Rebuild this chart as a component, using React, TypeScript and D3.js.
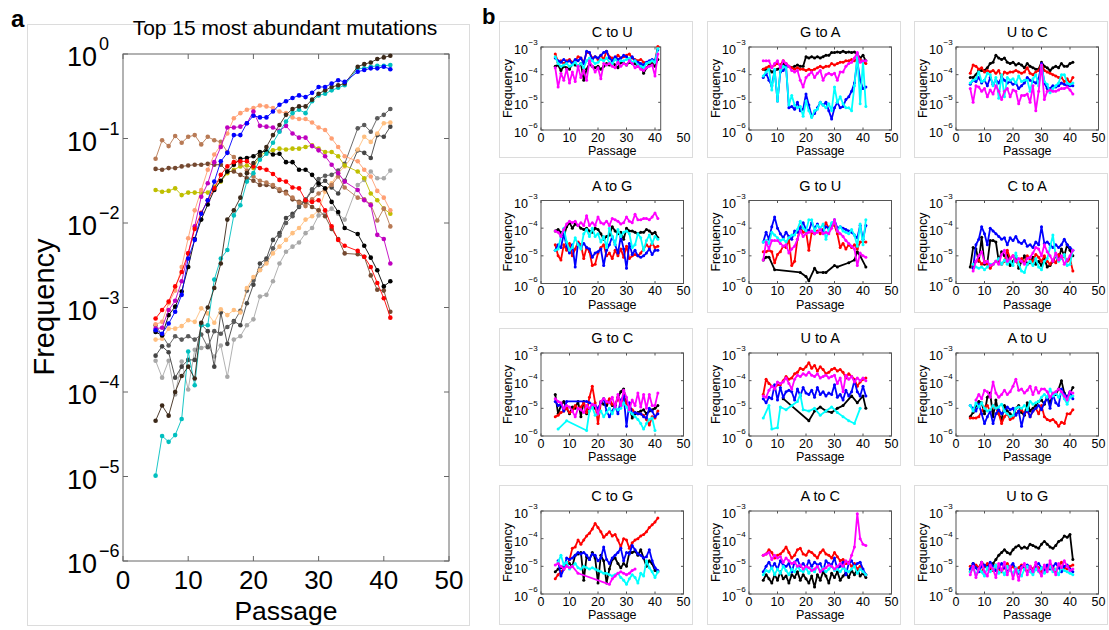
import React from 'react';
import * as d3 from 'd3';

const FONT = '"Liberation Sans", Arial, Helvetica, sans-serif';
const FIRST_PASSAGE = 5; // every series below starts at passage 5 (one value per passage, null = no sample)
const X_TICKS = [0, 10, 20, 30, 40, 50];
const A_DECADES = [0, -1, -2, -3, -4, -5, -6];
const B_DECADES = [-3, -4, -5, -6];
const SMALL_COLORS = ['#000000', '#ff0000', '#0000ff', '#00ffff', '#ff00ff'];

type S = (number | null)[];

// ---------- panel a: top 15 mutations (log10 frequency, passages 5..41) ----------
const aLightGray: S = [-3.63,-3.83,-3.63,-4.03,-3.64,-3.97,-3.50,-3.48,-3.45,-3.58,-3.45,-3.82,-3.38,-3.34,-3.21,-3.14,-2.87,-2.85,-2.69,-2.48,-2.34,-2.28,-2.23,-2.12,-2.06,-1.91,-1.89,-1.83,-1.89,-1.96,null,-1.55,-1.49,-1.39,-1.47,-1.47,-1.38];
const aGray: S = [-3.57,-3.46,-3.53,-3.83,-3.70,-3.62,-3.62,-3.20,-3.28,-3.70,-3.06,-3.43,-3.16,-3.21,-2.95,-2.73,-2.48,-2.42,-2.20,-2.12,-1.94,-1.89,-1.81,-1.73,-1.62,-1.55,-1.50,-1.58,-1.65,-1.50,null,-1.14,-1.17,-1.23,-0.96,-0.98,-0.86];
const aDarkGray: S = [-3.21,-3.33,-3.45,-3.34,-3.38,-3.34,-3.38,-3.32,-3.47,-3.28,-3.31,-3.23,-3.17,-3.04,-2.80,-2.68,-2.55,-2.45,-2.30,-2.15,-2.00,-1.92,-1.80,-1.72,-1.60,-1.48,-1.44,-1.43,-1.38,-1.30,null,-0.88,-0.84,-0.92,-0.76,-0.72,-0.65];
const aPeach: S = [-3.38,-3.37,-3.25,-3.25,-3.22,-3.15,-3.17,-3.01,-3.07,-3.18,-3.02,-3.09,-3.03,-3.06,-2.77,-2.64,-2.56,-2.48,-2.36,-2.28,-2.20,-2.12,-2.06,-1.96,-1.92,-1.85,-1.63,-1.53,-1.41,-1.33,null,-1.13,-0.98,-1.04,-0.94,-0.82,-0.81];
const aOlive: S = [-1.61,-1.63,-1.62,-1.59,-1.67,-1.64,-1.64,-1.64,-1.64,-1.57,-1.51,-1.41,-1.37,-1.33,-1.32,-1.35,-1.20,-1.16,-1.14,-1.12,-1.13,-1.12,-1.12,-1.10,-1.08,-1.12,-1.16,-1.16,-1.21,-1.32,null,-1.39,-1.47,-1.65,-1.73,-1.83,-1.89];
const aBrown: S = [-1.36,-1.37,-1.35,-1.35,-1.33,-1.32,-1.31,-1.31,-1.30,-1.31,-1.31,-1.39,-1.39,-1.43,-1.47,-1.50,-1.55,-1.55,-1.57,-1.62,-1.63,-1.72,-1.75,-1.75,-1.81,-1.85,-1.92,-2.07,-2.19,-2.36,null,-2.37,-2.40,-2.62,-2.79,-2.80,-3.05];
const aSienna: S = [-1.24,-1.02,-1.09,-0.97,-1.05,-0.98,-0.96,-1.07,-0.98,-1.02,-1.04,-1.16,-1.22,-1.30,-1.38,-1.45,-1.50,-1.52,-1.55,-1.60,-1.65,-1.70,-1.76,-1.80,-1.72,-1.65,-1.60,-1.55,-1.45,-1.58,null,-1.70,-1.72,-1.78,-1.97,-1.83,-2.04];
const aSalmon: S = [-3.20,-3.17,-2.95,-2.80,-2.52,-2.18,-1.85,-1.61,-1.37,-1.19,-1.08,-0.94,-0.76,-0.70,-0.66,-0.64,-0.61,-0.62,-0.64,-0.68,-0.70,-0.75,-0.77,-0.77,-0.81,-0.87,-0.90,-1.00,-1.10,-1.21,null,-1.27,-1.37,-1.45,-1.62,-1.70,-1.85];
const aBlack: S = [-3.29,-3.33,-3.09,-2.99,-2.81,-2.52,-2.19,-1.96,-1.78,-1.61,-1.50,-1.39,-1.31,-1.24,-1.23,-1.21,-1.16,-1.15,-1.19,-1.18,-1.28,-1.28,-1.37,-1.37,-1.43,-1.53,-1.59,-1.75,-1.87,-2.06,null,-2.13,-2.27,-2.41,-2.56,-2.75,-2.69];
const aMagenta: S = [-3.25,-3.24,-3.03,-2.92,-2.69,-2.36,-2.04,-1.69,-1.53,-1.28,-1.10,-0.87,-0.87,-0.86,-0.82,-0.68,-0.85,-0.86,-0.87,-0.91,-0.85,-0.94,-0.99,-0.99,-1.09,-1.14,-1.21,-1.31,-1.41,-1.51,null,-1.61,-1.73,-1.79,-2.14,-2.19,-2.48];
const aRed: S = [-3.13,-3.03,-2.93,-2.75,-2.58,-2.36,-2.07,-1.88,-1.73,-1.59,-1.43,-1.33,-1.28,-1.27,-1.27,-1.33,-1.35,-1.37,-1.42,-1.49,-1.51,-1.58,-1.59,-1.73,-1.75,-1.73,-1.85,-2.04,-2.20,-2.27,null,-2.33,-2.40,-2.52,-2.71,-2.89,-3.12];
const aCyan: S = [-4.99,-4.52,-4.59,-4.51,-4.32,-3.52,-3.92,-3.21,-3.21,-2.67,-2.42,-2.32,-1.91,-1.79,-1.51,-1.41,-1.25,-1.18,-1.05,-0.92,-0.80,-0.70,-0.66,-0.70,-0.56,-0.49,-0.47,-0.43,-0.40,-0.37,null,-0.17,-0.17,-0.15,-0.14,-0.14,-0.13];
const aDarkBrown: S = [-4.34,-4.16,-4.28,-4.00,-3.81,-3.70,-3.84,-3.18,-3.00,-2.77,-2.48,-1.96,-1.85,-1.70,-1.41,-1.29,-1.20,-1.10,-0.96,-0.84,-0.72,-0.65,-0.62,-0.62,-0.54,-0.47,-0.43,-0.39,-0.37,-0.35,null,-0.15,-0.12,-0.10,-0.06,-0.04,-0.02];
const aBlue: S = [-3.27,-3.31,-3.19,-3.05,-2.85,-2.42,-2.20,-1.89,-1.73,-1.51,-1.27,-1.17,-0.96,-0.96,-0.82,-0.73,-0.75,-0.75,-0.68,-0.60,-0.56,-0.52,-0.49,-0.51,-0.46,-0.39,-0.39,-0.35,-0.31,-0.33,null,-0.21,-0.19,-0.17,-0.17,-0.15,-0.18];

const A_SERIES: { color: string; values: S }[] = [
  { color: '#a8a8a8', values: aLightGray },
  { color: '#444444', values: aGray },
  { color: '#5a5a5a', values: aDarkGray },
  { color: '#ffbf80', values: aPeach },
  { color: '#bfbf00', values: aOlive },
  { color: '#74482f', values: aBrown },
  { color: '#b87a55', values: aSienna },
  { color: '#ff9f73', values: aSalmon },
  { color: '#000000', values: aBlack },
  { color: '#bf00bf', values: aMagenta },
  { color: '#ff0000', values: aRed },
  { color: '#00bfbf', values: aCyan },
  { color: '#3b2818', values: aDarkBrown },
  { color: '#0000ff', values: aBlue },
];

// ---------- panel b: five samples per mutation type (order: black, red, blue, cyan, magenta) ----------
const cToU: S[] = [
  [-3.7,-3.65,-3.85,-3.7,-3.75,-3.8,-3.6,-3.65,-3.7,-3.6,-4.2,-3.8,-3.6,-3.7,-3.75,-3.7,-3.8,-3.7,-3.6,-3.65,-3.55,-3.65,-3.75,-3.55,-3.6,-3.65,-3.55,-3.6,-3.6,-3.7,-3.65,-3.95,-3.75,-3.65,-3.6,-3.7,-3.45],
  [-3.25,-3.55,-3.5,-3.6,-3.5,-3.45,-3.55,-3.5,-3.35,-3.4,-3.55,-3.2,-3.2,-3.4,-3.35,-3.45,-3.3,-3.45,-3.15,-3.35,-3.4,-3.45,-3.3,-3.4,-3.35,-3.3,-3.25,-3.4,-3.45,-3.5,-3.45,-3.55,-3.6,-3.55,-3.5,-3.5,-2.98],
  [-3.4,-3.5,-3.55,-3.45,-3.55,-3.5,-3.6,-3.45,-3.5,-3.4,-3.6,-3.15,-3.2,-3.45,-3.35,-3.4,-3.3,-3.2,-3.15,-3.4,-3.5,-3.35,-3.45,-3.4,-3.3,-3.35,-3.45,-3.35,-3.5,-3.55,-3.6,-3.65,-3.55,-3.5,-3.45,-3.5,-3.1],
  [-3.35,-3.6,-3.7,-3.65,-3.6,-3.7,-3.65,-3.55,-3.7,-3.6,-3.75,-3.5,-3.4,-3.5,-3.6,-3.55,-3.45,-3.5,-3.4,-3.55,-3.6,-3.45,-3.55,-3.5,-3.5,-3.45,-3.4,-3.55,-3.5,-3.65,-3.7,-3.75,-3.6,-3.55,-3.5,-3.55,-3.05],
  [-3.75,-4.45,-3.95,-4.2,-3.8,-4.3,-3.9,-4.25,-3.7,-4.1,-3.85,-4.2,-3.5,-3.7,-3.9,-3.75,-4.15,-3.6,-3.65,-3.6,-3.7,-3.75,-3.55,-3.7,-3.6,-3.65,-3.5,-3.6,-3.75,-3.7,-3.8,-3.85,-3.75,-3.7,-3.65,-4.05,-3.25],
];
const gToA: S[] = [
  [-3.8,-3.85,-3.8,-3.9,-3.85,-3.8,-3.75,-3.6,-3.7,-3.7,-3.75,-3.7,-3.65,-3.7,-3.7,-3.35,-3.4,-3.35,-3.4,-3.35,-3.4,-3.35,-3.3,-3.3,-3.2,-3.2,-3.18,-3.2,-3.15,-3.2,-3.18,-3.2,-3.18,-3.25,-3.4,-3.3,-3.5],
  [-3.8,-3.75,-3.7,-3.72,-3.65,-3.6,-3.65,-3.5,-3.6,-3.7,-3.75,-3.8,-3.75,-3.8,-3.8,-3.85,-3.8,-3.85,-3.8,-3.75,-3.7,-3.75,-3.7,-3.7,-3.6,-3.65,-3.6,-3.55,-3.55,-3.5,-3.5,-3.45,-3.5,-3.4,-3.45,-3.55,-3.6],
  [-4.1,-3.95,-4.2,-4.4,-3.85,-4.95,-3.9,-3.85,-3.7,-5.2,-5.15,-5.25,-5.0,-5.3,-5.25,-4.7,-5.1,-5.5,-5.4,-5.2,-5.0,-5.1,-5.0,-5.3,-5.6,-5.2,-5.0,-5.2,-5.15,-4.9,-4.8,-4.6,-4.3,-3.5,-4.2,-4.5,-4.45],
  [-4.05,-3.9,-3.8,-4.55,-3.8,-4.95,-3.85,-3.7,-3.75,-5.1,-4.75,-5.1,-5.2,-5.15,-5.5,-4.95,-5.3,-5.55,-5.3,-5.25,-5.0,-5.1,-5.2,-5.05,-5.3,-4.45,-5.0,-4.8,-5.05,-5.2,-5.2,-5.3,-4.4,-3.25,-5.05,-3.5,-5.15],
  [-3.5,-3.5,-3.5,-3.75,-3.6,-3.5,-3.75,-3.5,-3.6,-3.7,-3.85,-3.9,-3.85,-4.2,-4.45,-4.1,-4.0,-3.9,-4.1,-3.95,-3.85,-4.2,-4.0,-3.95,-4.0,-3.95,-4.2,-3.9,-3.9,-3.7,-3.6,-3.55,-3.4,-3.2,-3.55,-3.5,-3.5],
];
const uToC: S[] = [
  [-4.1,-4.1,-4.0,-3.85,-3.85,-3.85,-3.75,-3.6,-3.55,-3.3,-3.4,-3.45,-3.4,-3.55,-3.6,-3.55,-3.65,-3.6,-3.65,-3.75,-3.6,-3.7,-3.75,-3.8,-3.8,-3.55,-3.7,-3.75,-3.85,-3.75,-3.7,-3.75,-3.6,-3.7,-3.7,-3.6,-3.55],
  [-3.95,-3.65,-3.7,-3.8,-3.75,-3.9,-3.85,-3.9,-3.85,-3.95,-3.85,-4.1,-3.9,-3.95,-3.9,-3.9,-3.85,-3.9,-3.95,-3.9,-3.75,-3.95,-4.0,-3.9,-3.85,-3.6,-3.85,-3.9,-3.95,-4.0,-4.05,-4.1,-4.1,-4.25,-4.15,-4.3,-4.1],
  [-4.35,-4.2,-4.25,-4.1,-4.3,-4.2,-4.4,-4.1,-4.35,-4.2,-4.3,-4.1,-4.2,-4.3,-4.25,-4.35,-4.3,-4.5,-4.4,-4.3,-4.1,-4.2,-4.25,-4.3,-4.15,-3.6,-4.3,-4.5,-4.5,-4.4,-4.45,-4.4,-4.3,-4.35,-4.4,-4.4,-4.4],
  [-4.3,-4.2,-4.15,-3.9,-4.25,-4.2,-3.95,-4.0,-4.4,-4.1,-4.85,-4.0,-4.8,-4.1,-4.2,-4.15,-4.3,-4.05,-4.25,-4.2,-4.2,-4.6,-4.15,-4.0,-4.4,-3.7,-4.25,-4.35,-4.65,-4.5,-4.4,-4.3,-4.0,-4.0,-4.3,-4.35,-4.3],
  [-4.5,-5.0,-4.4,-4.45,-4.6,-4.5,-4.8,-4.55,-4.7,-4.4,-4.6,-4.9,-4.6,-4.5,-4.8,-4.55,-4.6,-5.05,-4.75,-4.75,-4.7,-5.0,-4.4,-5.3,-4.6,-3.65,-4.9,-4.6,-4.55,-4.6,-4.6,-4.55,-4.5,-4.5,-4.45,-4.55,-4.7],
];
const aToG: S[] = [
  [-4.1,-4.05,-4.15,-4.3,-3.95,-3.8,-4.0,-3.85,-3.9,-4.0,-4.05,-4.0,-4.1,-4.15,-4.0,-4.05,-4.2,-4.4,-4.3,-4.25,-3.95,-4.1,-4.2,-4.15,-4.4,-4.0,-4.1,-4.1,-4.15,-4.2,-4.15,-4.15,-4.05,-4.1,-4.2,-4.15,-4.35],
  [-4.6,-5.0,-5.15,-4.6,-4.8,-4.55,-5.0,-4.75,-4.5,-4.6,-5.1,-4.7,-4.85,-5.35,-5.3,-4.9,-4.7,-4.6,-5.0,-4.9,-5.1,-4.8,-5.0,-4.75,-5.05,-4.65,-5.1,-5.0,-4.95,-5.0,-4.9,-4.75,-4.6,-4.7,-4.55,-4.7,-4.65],
  [-4.8,-4.6,-4.7,-4.2,-4.65,-4.9,-4.6,-5.4,-4.55,-4.7,-4.55,-4.7,-4.75,-5.05,-4.9,-4.85,-4.75,-5.35,-4.8,-4.6,-4.3,-4.6,-4.9,-4.3,-4.75,-5.45,-4.55,-4.95,-4.8,-5.0,-5.05,-5.0,-4.9,-4.75,-4.95,-4.8,-4.8],
  [-4.8,-4.75,-4.3,-4.0,-4.5,-4.8,-4.7,-4.35,-4.6,-4.75,-4.2,-4.05,-4.3,-4.0,-4.3,-4.2,-4.5,-4.3,-4.7,-4.0,-4.3,-4.6,-4.05,-4.3,-4.15,-4.1,-4.2,-4.7,-4.6,-4.2,-4.35,-4.8,-4.45,-4.25,-4.55,-4.3,-4.4],
  [-4.1,-4.15,-4.3,-4.05,-3.85,-3.75,-3.8,-3.75,-3.9,-3.8,-3.9,-3.55,-3.9,-3.8,-3.9,-3.6,-3.8,-3.85,-3.75,-3.9,-3.65,-3.7,-3.75,-3.85,-3.8,-3.6,-3.75,-3.8,-3.5,-3.7,-3.7,-3.65,-3.65,-3.7,-3.6,-3.45,-3.65],
];
const gToU: S[] = [
  [-5.15,-5.05,-5.05,null,-5.5,null,null,null,null,null,null,null,null,-5.6,null,-5.75,-5.9,null,-5.45,-5.6,null,-5.6,-5.6,null,null,-5.35,-5.4,null,null,null,-5.25,null,-5.15,-4.85,-5.0,null,-5.4],
  [-4.85,-4.85,-4.8,-4.85,-5.25,-4.95,-4.85,-4.65,-4.7,-4.4,-5.35,-5.2,-4.4,-3.95,-4.15,-4.1,-4.8,-4.15,-4.2,-4.1,-4.2,-4.05,-3.8,-4.0,-3.85,-3.9,-4.2,-4.7,-4.55,-4.75,-4.6,-4.7,-4.6,-4.75,-4.5,-4.5,-4.5],
  [-4.5,-4.15,-4.4,-3.95,-3.6,-4.0,-4.2,-4.35,-4.15,-4.3,-4.4,-4.1,-4.15,-4.0,-3.8,-4.05,-4.1,-3.8,-4.0,-3.85,-4.05,-4.1,-3.95,-4.0,-3.9,-3.7,-4.0,-3.95,-4.0,-4.05,-4.1,-4.15,-4.25,-4.35,-3.9,-4.4,-3.9],
  [-4.5,-4.45,-4.55,-4.15,-4.25,-4.35,-4.45,-4.4,-4.5,-4.35,-4.25,-4.25,-4.05,-3.75,-4.0,-4.1,-3.7,-3.7,-4.1,-3.9,-4.0,-3.85,-4.4,-4.05,-3.8,-3.75,-4.1,-3.95,-4.1,-4.15,-4.2,-4.05,-4.25,-4.65,-3.85,-4.6,-3.7],
  [-5.15,-4.5,-4.75,-4.45,-4.45,-4.45,-4.55,-4.65,-4.6,-4.9,-4.75,-4.65,-4.4,-4.1,-4.3,-4.2,-4.15,-4.1,-4.2,-4.15,-4.05,-4.2,-4.15,-4.2,-4.0,-3.7,-4.1,-4.2,-4.3,-4.45,-4.55,-4.65,-4.75,-5.35,-4.9,-5.0,-5.05],
];
const cToA: S[] = [
  [-5.4,-4.7,-4.75,-5.2,-4.33,-5.3,-5.25,-4.45,-4.45,-4.5,-5.2,-4.85,-5.0,-4.9,-5.35,-5.2,-5.0,-5.45,-5.2,-5.0,-5.3,-5.25,-5.05,-5.3,-5.2,-5.35,-5.1,-5.4,-5.35,-5.2,-5.0,-5.1,-4.75,-5.0,-4.6,-4.8,-5.0],
  [null,-5.35,-5.2,-5.15,-5.3,-5.2,-5.3,-5.45,-5.3,-5.2,-5.15,-5.3,-5.2,-4.8,-5.1,-5.0,-5.2,-5.3,-5.1,-5.25,-5.0,-5.15,-5.2,-4.95,-5.05,-5.2,-5.0,-5.2,-5.3,-5.15,-5.25,-4.95,-5.1,-5.0,-5.2,-5.1,-5.55],
  [null,-5.45,-4.6,-4.4,-3.95,-4.2,-4.6,-4.0,-4.1,-4.2,-4.3,-4.4,-4.35,-4.6,-4.35,-4.45,-4.3,-4.5,-4.55,-4.45,-4.65,-4.6,-4.7,-4.5,-4.6,-3.95,-4.55,-4.5,-4.6,-4.7,-4.6,-4.7,-4.6,-4.4,-4.6,-4.7,-4.8],
  [null,-5.3,-5.4,-5.45,-5.4,-5.5,-5.4,-5.3,-5.3,-5.2,-5.1,-5.3,-5.15,-5.3,-5.2,-5.35,-4.9,-5.3,-5.55,-5.6,-5.3,-5.2,-5.35,-5.1,-5.4,-5.5,-5.2,-5.1,-4.7,-4.25,-5.0,-5.2,-5.1,-4.95,-5.35,-5.3,-4.8],
  [null,-5.55,-5.2,-5.0,-4.85,-5.25,-5.2,-5.35,-5.3,-5.2,-5.3,-4.95,-4.8,-5.2,-5.1,-5.0,-5.2,-5.1,-5.2,-5.3,-5.1,-5.05,-4.9,-4.7,-4.75,-5.0,-4.6,-4.85,-5.0,-5.2,-4.9,-5.15,-5.0,-5.3,-5.15,-5.0,-4.8],
];
const gToC: S[] = [
  [-4.5,-5.2,-4.9,-4.75,-5.0,-5.2,-4.95,-5.0,-4.75,-5.3,-4.75,-5.2,-5.05,-4.9,-5.0,-5.1,-4.75,-4.85,-4.9,-4.75,-4.9,-4.9,-4.6,-4.4,-4.3,-4.8,-4.9,-5.35,-5.2,-5.15,-5.1,-5.05,-5.2,-5.1,-5.05,-5.0,-4.9],
  [-5.3,-5.25,-5.15,-5.1,-5.0,-5.15,-5.1,-4.9,-5.0,-4.95,-4.8,-5.15,-4.6,-4.2,-4.8,-5.55,-4.8,-4.65,-4.8,-4.65,-4.85,-4.9,-4.6,-4.9,-4.55,-4.85,-4.95,-5.05,-5.15,-5.2,-5.2,-5.25,-5.4,-5.6,-5.3,-5.35,-5.1],
  [-4.75,-4.9,-4.85,-5.1,-4.75,null,null,null,null,null,null,-4.75,-4.8,null,-4.9,-5.0,-4.8,-4.65,-5.1,-5.3,-5.1,-4.9,-5.2,-4.7,-4.55,-5.65,-4.8,-5.2,-5.15,-5.2,-5.2,-5.3,-5.35,-5.0,-5.1,-5.3,-5.2],
  [null,-5.75,null,null,-5.45,null,null,null,null,null,null,-5.8,-5.1,-4.95,-5.25,-5.2,-5.1,-5.3,-5.15,-5.0,-5.2,-4.95,-5.05,-5.0,-4.8,-4.95,-5.1,-5.2,-5.3,-5.4,-5.55,-5.75,-5.55,-5.4,-5.35,-5.8,null],
  [-4.65,-4.75,-4.8,-5.0,-4.9,-4.95,-5.1,-5.3,-5.0,-5.05,-5.15,-4.9,-5.0,-4.85,-4.9,-5.2,-4.75,-4.65,-4.75,-4.8,-4.6,-4.95,-4.5,-4.9,-4.35,-4.6,-5.05,-4.7,-4.9,-4.45,-4.95,-4.5,-5.0,-4.5,-4.9,-4.9,-4.45],
];
const uToA: S[] = [
  [null,null,null,null,null,null,null,-4.65,null,null,null,null,null,null,null,null,-5.45,null,-5.1,null,-4.95,null,-5.1,null,-5.15,null,-5.0,null,-4.9,null,null,-4.55,null,-4.8,null,-4.55,-5.0],
  [-4.5,-3.95,-4.1,-4.2,-4.25,-4.15,-4.15,-4.0,-3.85,-3.95,-3.9,-3.75,-3.7,-3.55,-3.6,-3.5,-3.35,-3.55,-3.45,-3.65,-3.5,-3.6,-3.75,-3.7,-3.6,-3.55,-3.65,-3.6,-3.7,-3.9,-3.75,-3.85,-3.95,-4.2,-4.05,-3.95,-3.9],
  [-4.65,-4.8,-4.6,-4.65,-4.15,-4.7,-4.25,-4.6,-4.4,-4.35,-4.4,-4.7,-4.3,-4.55,-4.25,-4.45,-4.5,-4.35,-4.6,-4.25,-4.5,-4.4,-4.55,-4.45,-4.5,-4.15,-4.6,-4.5,-4.7,-4.35,-4.55,-4.4,-4.0,-4.4,-4.55,-4.2,-4.55],
  [-5.35,null,-4.9,-5.75,null,-5.7,-4.95,null,-5.05,null,-4.9,null,-4.75,-4.5,-5.05,null,-5.1,null,-5.0,null,-5.25,null,-5.1,null,-4.95,null,-5.15,null,-5.3,null,-5.45,null,-5.55,null,-5.0,null,null],
  [-4.55,-4.6,-4.35,-4.2,-4.3,-4.05,-4.1,-4.05,-3.9,-4.1,-4.3,-3.95,-3.8,-3.85,-3.75,-3.8,-3.7,-3.8,-3.85,-3.75,-3.9,-3.85,-3.8,-3.9,-3.85,-3.8,-4.1,-3.9,-4.4,-3.8,-3.95,-3.85,-4.05,-3.9,-4.0,-3.9,-4.0],
];
const aToU: S[] = [
  [-5.3,-5.15,-4.9,-4.75,-4.8,-5.2,-4.6,-4.45,-5.3,-4.7,-5.2,-5.4,-4.9,-5.1,-5.2,-5.3,-5.0,-4.9,-5.15,-5.25,-4.8,-5.1,-5.0,-4.9,-4.75,-4.7,-4.85,-4.6,-4.8,-4.5,-4.5,-4.3,-4.0,-4.45,-4.6,-4.45,-4.25],
  [-5.35,-5.35,-5.35,-5.3,-5.1,-4.95,-4.9,-5.1,-4.9,-5.0,-5.2,-5.55,-5.3,-5.2,-5.4,-5.35,-5.2,-5.1,-5.05,-5.2,-5.1,-5.3,-5.1,-5.0,-5.2,-4.9,-5.3,-5.4,-5.45,-5.4,-5.5,-5.65,-5.5,-5.55,-5.2,-5.2,-5.05],
  [-4.9,-5.0,-5.1,-4.85,-5.2,-5.55,-5.3,-5.1,-5.55,-5.2,-5.05,-5.2,-5.1,-4.95,-5.05,-5.0,-5.25,-5.1,-5.65,-5.2,-5.05,-5.3,-5.1,-5.0,-4.9,-5.05,-4.8,-4.6,-5.0,-4.5,-4.8,-4.9,-4.3,-4.5,-4.6,-4.4,-4.65],
  [-4.9,-5.1,-4.8,-4.95,-4.8,-5.0,-5.1,-5.05,-4.9,-5.0,-4.95,-4.85,-5.1,-5.2,-5.3,-5.25,-5.0,-4.95,-5.0,-4.9,-5.05,-4.75,-4.85,-4.8,-4.75,-4.6,-4.5,-4.6,-4.3,-4.55,-4.45,-4.6,-4.4,-4.65,-4.85,-4.6,-4.55],
  [null,null,-4.7,-4.5,-4.65,-4.35,-4.4,-4.6,-4.05,-4.45,-4.6,-4.5,-4.35,-4.5,-4.4,-4.2,-3.95,-4.35,-4.3,-4.45,-4.35,-4.2,-4.5,-4.25,-4.45,-4.3,-4.3,-4.4,-4.6,-4.45,-4.4,-4.3,-4.4,-4.55,-4.7,-4.4,-4.45],
];
const cToG: S[] = [
  [-5.2,-5.1,-5.05,-5.0,-4.85,-4.9,-5.0,-4.6,-4.55,-4.5,-5.5,-4.65,-4.75,-4.5,-4.7,-5.6,-4.6,-4.8,-5.6,-5.1,-4.75,-4.7,-4.9,-5.05,-4.9,-5.0,-4.5,-4.5,-4.45,-4.6,-4.4,-4.7,-5.0,-4.8,-4.9,-5.15,-5.2],
  [-5.45,-5.3,-5.2,-5.1,-4.95,-4.75,-4.35,-4.3,-4.05,-4.2,-4.05,-3.9,-3.8,-3.65,-3.45,-3.6,-3.75,-3.95,-3.85,-3.75,-3.9,-3.85,-4.05,-4.3,-4.0,-4.05,-4.35,-4.15,-4.05,-4.0,-3.9,-3.85,-3.75,-3.6,-3.5,-3.4,-3.25],
  [null,-4.8,-5.35,-5.1,-4.7,-4.75,-4.7,-4.6,-4.5,-4.55,-4.5,-4.6,-4.75,-4.55,-4.6,-4.8,-4.7,-4.3,-4.75,-4.9,-4.7,-4.6,-4.5,-4.35,-4.8,-4.5,-4.55,-4.25,-4.4,-4.55,-4.6,-4.7,-4.65,-4.4,-4.8,-5.05,-5.15],
  [null,-4.85,-4.6,-4.95,-4.85,-5.1,-5.0,-4.9,-5.05,-5.1,-5.0,-5.05,-5.1,-5.05,-5.1,-5.15,-5.2,-5.25,-5.25,-5.3,-5.35,-5.3,-5.25,-5.4,-5.5,-5.65,-5.45,-5.3,-5.4,-5.6,-5.25,-5.35,-4.8,-5.05,-5.2,-5.4,-5.2],
  [-4.95,-4.9,-5.0,-5.1,-5.0,-5.05,-5.0,null,-5.25,null,null,null,null,null,null,null,null,null,null,-5.65,-5.45,-5.35,-5.25,-5.2,-5.25,-5.3,-5.25,-5.15,-5.1,null,null,null,null,null,null,null,null],
];
const aToC: S[] = [
  [-5.5,-5.3,-5.45,-5.6,-5.3,-5.5,-5.2,-5.45,-5.35,-5.6,-5.3,-5.4,-5.2,-5.5,-5.3,-5.45,-5.6,-5.35,-5.75,-5.3,-5.5,-5.2,-5.35,-5.6,-5.25,-5.4,-5.2,-5.5,-5.35,-5.25,-5.4,-5.15,-5.3,-5.1,-5.35,-5.25,-5.4],
  [-4.6,-4.55,-4.4,-4.5,-4.7,-4.6,-4.55,-4.45,-4.3,-4.5,-4.7,-4.6,-4.4,-4.35,-4.55,-4.6,-4.45,-4.5,-4.6,-4.7,-4.5,-4.4,-4.55,-4.6,-4.7,-4.5,-4.65,-4.8,-4.75,-4.9,-4.85,-5.0,-4.9,-5.1,-5.0,-5.2,-5.3],
  [-5.2,-5.0,-4.85,-5.05,-4.9,-5.1,-4.8,-4.95,-5.0,-4.9,-5.2,-4.85,-4.75,-5.0,-4.9,-5.05,-4.8,-5.0,-4.85,-4.95,-4.9,-5.15,-4.8,-4.9,-4.95,-4.7,-5.1,-5.0,-4.85,-5.3,-4.9,-4.8,-5.0,-4.9,-4.85,-5.1,-5.3],
  [-5.3,-5.15,-5.2,-5.05,-5.3,-5.1,-5.25,-5.0,-5.15,-5.3,-5.1,-5.2,-5.0,-5.15,-5.2,-5.05,-5.25,-5.1,-5.2,-5.0,-5.15,-5.05,-5.2,-5.1,-5.0,-5.15,-5.1,-5.2,-5.05,-5.15,-5.2,-5.1,-5.0,-5.25,-5.1,-5.2,-5.3],
  [-4.6,-4.55,-4.5,-4.75,-4.6,-4.7,-4.65,-4.85,-4.7,-4.8,-4.9,-4.85,-5.0,-4.95,-5.1,-5.0,-5.05,-5.15,-5.1,-5.0,-5.2,-5.1,-5.05,-4.95,-5.0,-5.1,-5.0,-4.9,-5.0,-4.8,-4.9,-4.6,-4.3,-3.1,-4.0,-4.2,-4.25],
];
const uToG: S[] = [
  [-5.2,-4.9,-5.0,-5.05,-4.85,-5.0,-4.95,-5.1,-4.9,-4.75,-4.6,-4.5,-4.4,-4.5,-4.55,-4.4,-4.3,-4.25,-4.35,-4.3,-4.35,-4.2,-4.25,-4.3,-4.35,-4.2,-4.1,-4.2,-4.3,-4.35,-4.25,-4.1,-4.05,-3.9,-3.95,-3.85,-4.75],
  [-5.0,-5.1,-4.95,-5.05,-5.2,-5.0,-4.9,-5.05,-5.15,-4.95,-5.1,-5.2,-5.0,-4.9,-5.1,-5.0,-5.15,-5.05,-4.95,-5.1,-5.2,-5.0,-5.1,-4.95,-5.05,-5.2,-5.0,-5.1,-4.95,-5.05,-5.15,-5.0,-4.85,-5.05,-5.1,-5.0,-4.95],
  [-5.1,-4.9,-5.05,-5.2,-5.0,-4.95,-5.1,-4.85,-5.0,-5.15,-5.05,-4.9,-5.05,-5.2,-5.0,-4.9,-5.1,-5.25,-5.0,-5.1,-4.95,-5.05,-5.2,-5.0,-4.9,-5.05,-5.15,-4.95,-5.1,-5.0,-4.9,-5.05,-5.2,-5.0,-4.95,-5.1,-5.2],
  [-5.2,-5.05,-5.3,-5.1,-5.2,-5.35,-5.05,-5.2,-5.1,-4.95,-5.25,-5.15,-5.3,-5.0,-5.15,-5.25,-5.05,-5.2,-5.35,-5.1,-5.0,-5.2,-5.3,-5.1,-5.2,-5.05,-5.25,-5.15,-5.0,-5.2,-5.1,-5.3,-5.05,-5.15,-5.2,-5.25,-5.3],
  [-5.3,-5.0,-5.4,-5.1,-4.85,-5.2,-5.35,-4.95,-5.1,-5.4,-4.9,-5.15,-4.85,-5.3,-5.0,-5.45,-5.1,-5.5,-5.05,-4.9,-5.3,-5.0,-5.2,-4.85,-5.15,-5.35,-4.95,-5.2,-4.8,-5.1,-5.3,-4.9,-5.05,-4.8,-5.0,-5.15,-5.1],
];

const PANEL_TITLES = ['C to U', 'G to A', 'U to C', 'A to G', 'G to U', 'C to A', 'G to C', 'U to A', 'A to U', 'C to G', 'A to C', 'U to G'];
const PANEL_DATA = [cToU, gToA, uToC, aToG, gToU, cToA, gToC, uToA, aToU, cToG, aToC, uToG];

// ---------- layout ----------
const COL_LEFT = [541, 749, 956];
const ROW_TOP = [47, 200.5, 353, 511];
const BOX_W = 142.5;
const BOX_H = 83;
const FRAME_LEFT = [499, 707, 914];
const FRAME_TOP = [21, 173, 328, 485];
const FRAME_BOTTOM = [157, 312, 465, 624];
const FRAME_W = 193;

type Pt = { p: number; f: number };
function toPoints(values: S): Pt[] {
  const out: Pt[] = [];
  values.forEach((v, i) => {
    if (v !== null && v !== undefined) out.push({ p: FIRST_PASSAGE + i, f: Math.pow(10, v) });
  });
  return out;
}

function PanelA() {
  const x = d3.scaleLinear().domain([0, 50]).range([123, 449]);
  const y = d3.scaleLog().domain([1e-6, 1]).range([561, 54]);
  const line = d3.line<Pt>().x((d) => x(d.p)).y((d) => y(d.f));
  const [x0, x1] = x.range();
  const [yb, yt] = y.range();
  return (
    <g fontFamily={FONT}>
      <rect x={27.5} y={24.5} width={442} height={601} fill="none" stroke="#dcdcdc" strokeWidth={1} />
      <text x={11} y={27} fontSize={24} fontWeight="bold">a</text>
      <text x={285} y={35} fontSize={21} textAnchor="middle">Top 15 most abundant mutations</text>
      <rect x={x0} y={yt} width={x1 - x0} height={yb - yt} fill="none" stroke="#666" strokeWidth={1} />
      {X_TICKS.map((t) => (
        <g key={'xa' + t}>
          <line x1={x(t)} x2={x(t)} y1={yb} y2={yb - 5} stroke="#666" />
          <line x1={x(t)} x2={x(t)} y1={yt} y2={yt + 5} stroke="#666" />
          <text x={x(t)} y={589} fontSize={26} textAnchor="middle">{t}</text>
        </g>
      ))}
      {A_DECADES.map((e) => {
        const yy = y(Math.pow(10, e));
        return (
          <g key={'ya' + e}>
            <line x1={x0} x2={x0 + 5} y1={yy} y2={yy} stroke="#666" />
            <line x1={x1} x2={x1 - 5} y1={yy} y2={yy} stroke="#666" />
            <text x={97} y={yy + 12} fontSize={27} textAnchor="end">10</text>
            <text x={99} y={yy - 4} fontSize={18}>{e === 0 ? '0' : '\u2212' + Math.abs(e)}</text>
          </g>
        );
      })}
      <text x={286} y={620} fontSize={26.5} textAnchor="middle">Passage</text>
      <text transform={`translate(54,307) rotate(-90)`} fontSize={29} textAnchor="middle">Frequency</text>
      {A_SERIES.map((s, i) => {
        const pts = toPoints(s.values);
        return (
          <g key={'as' + i}>
            <path d={line(pts) || ''} fill="none" stroke={s.color} strokeWidth={0.9} />
            {pts.map((d, j) => (
              <circle key={j} cx={x(d.p)} cy={y(d.f)} r={2.3} fill={s.color} />
            ))}
          </g>
        );
      })}
    </g>
  );
}

function SmallPanel({ idx }: { idx: number }) {
  const col = idx % 3;
  const row = Math.floor(idx / 3);
  const left = COL_LEFT[col];
  const top = ROW_TOP[row];
  const x = d3.scaleLinear().domain([0, 50]).range([left, left + BOX_W]);
  const y = d3.scaleLog().domain([1e-6, 1e-3]).range([top + BOX_H, top]);
  const boxMax = idx === 0 ? 42 : 50; // the C to U box is cut short in the source
  const right = x(boxMax);
  const bottom = top + BOX_H;
  const line = d3.line<Pt>().x((d) => x(d.p)).y((d) => y(d.f));
  const cx = (left + left + BOX_W) / 2;
  const data = PANEL_DATA[idx];
  return (
    <g fontFamily={FONT}>
      <rect x={FRAME_LEFT[col] + 0.5} y={FRAME_TOP[row] + 0.5} width={FRAME_W} height={FRAME_BOTTOM[row] - FRAME_TOP[row]} fill="none" stroke="#dcdcdc" strokeWidth={1} />
      <text x={cx} y={top - 10} fontSize={14.5} textAnchor="middle">{PANEL_TITLES[idx]}</text>
      <rect x={left} y={top} width={right - left} height={BOX_H} fill="none" stroke="#555" strokeWidth={1} />
      {X_TICKS.map((t) => (
        <g key={'x' + t}>
          {t <= boxMax && <line x1={x(t)} x2={x(t)} y1={bottom} y2={bottom - 2.5} stroke="#555" />}
          {t <= boxMax && <line x1={x(t)} x2={x(t)} y1={top} y2={top + 2.5} stroke="#555" />}
          <text x={x(t)} y={bottom + 11.5} fontSize={12.5} textAnchor="middle">{t}</text>
        </g>
      ))}
      {B_DECADES.map((e) => {
        const yy = y(Math.pow(10, e));
        return (
          <g key={'y' + e}>
            <line x1={left} x2={left + 2.5} y1={yy} y2={yy} stroke="#555" />
            <line x1={right} x2={right - 2.5} y1={yy} y2={yy} stroke="#555" />
            <text x={left - 13} y={yy + 7} fontSize={12.5} textAnchor="end">10</text>
            <text x={left - 12.5} y={yy - 2} fontSize={8}>{'\u2212' + Math.abs(e)}</text>
          </g>
        );
      })}
      <text x={cx} y={bottom + 25} fontSize={12.5} textAnchor="middle">Passage</text>
      <text transform={`translate(${left - 29.5},${top + BOX_H / 2}) rotate(-90)`} fontSize={12.5} textAnchor="middle">Frequency</text>
      {data.map((s, i) => {
        const pts = toPoints(s);
        const color = SMALL_COLORS[i];
        return (
          <g key={'s' + i}>
            <path d={line(pts) || ''} fill="none" stroke={color} strokeWidth={1.8} strokeLinejoin="round" />
            {pts.map((d, j) => (
              <circle key={j} cx={x(d.p)} cy={y(d.f)} r={1.5} fill={color} />
            ))}
          </g>
        );
      })}
    </g>
  );
}

export default function App() {
  return (
    <svg width={1109} height={630} viewBox="0 0 1109 630" style={{ position: 'absolute', left: 0, top: 0, background: '#fff' }}>
      <rect x={0} y={0} width={1109} height={630} fill="#fff" />
      <PanelA />
      <text x={482} y={24} fontSize={22} fontWeight="bold" fontFamily={FONT}>b</text>
      {PANEL_TITLES.map((_, i) => (
        <SmallPanel key={i} idx={i} />
      ))}
    </svg>
  );
}
